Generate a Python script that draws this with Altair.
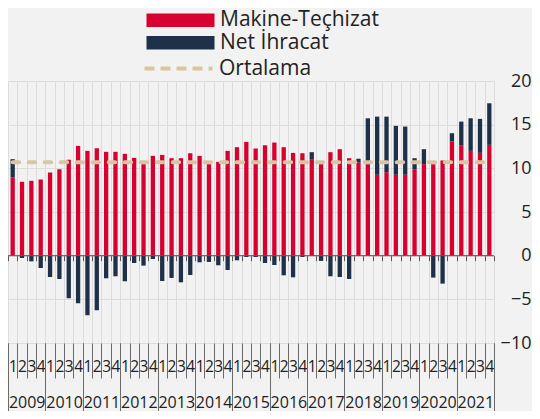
import altair as alt
import pandas as pd

# ---------------- data ----------------
YEARS = [str(y) for y in range(2009, 2022)]
QNUMS = ["1", "2", "3", "4"]

MAKINE = [8.95, 8.46, 8.57, 8.72, 9.52, 9.90, 10.97, 12.57, 12.00, 12.30,
          11.89, 11.89, 11.66, 11.20, 10.48, 11.43, 11.54, 11.16, 11.16, 11.73,
          11.43, 10.48, 10.74, 12.00, 12.42, 13.03, 12.27, 12.65, 12.95, 12.42,
          11.77, 11.73, 11.05, 10.48, 11.85, 12.19, 11.16, 10.70, 10.48, 9.26,
          9.56, 9.26, 9.26, 9.90, 10.48, 10.48, 10.90, 13.07, 12.65, 12.00,
          11.77, 12.69]
NET = [2.10, -0.27, -0.65, -1.41, -2.44, -2.67, -4.88, -5.45, -6.82, -6.25,
       -2.59, -2.36, -2.93, -0.84, -1.14, -0.38, -2.90, -2.55, -3.05, -2.21,
       -0.76, -0.72, -1.10, -1.64, -0.53, -0.15, -0.15, -0.84, -1.07, -2.25,
       -2.48, -0.15, 0.80, -0.60, -2.36, -2.44, -2.67, 0.40, 5.25, 6.66,
       6.36, 5.60, 5.52, 1.26, 1.71, -2.51, -3.20, 0.95, 2.70, 3.73,
       3.89, 4.76]
ORTALAMA = 10.7

BAR_SERIES = ["Makine-Teçhizat", "Net İhracat"]
BAR_COLORS = ["#d7002f", "#1e3148"]
AVG_SERIES = ["Ortalama"]
AVG_COLORS = ["#d8c6a2"]
Y_TICKS = [-10, -5, 0, 5, 10, 15, 20]
Y_MIN, Y_MAX = -10, 20

QUARTERS = [f"{y}-{q}" for y in YEARS for q in QNUMS]

rows = []
for i, q in enumerate(QUARTERS):
    rows.append({"q": q, "s": BAR_SERIES[0], "v": MAKINE[i], "o": 0})
    rows.append({"q": q, "s": BAR_SERIES[1], "v": NET[i], "o": 1})
bars_df = pd.DataFrame(rows)
avg_df = pd.DataFrame({"s": AVG_SERIES, "a": [QUARTERS[0]], "b": [QUARTERS[-1]], "v": [ORTALAMA]})
zero_df = pd.DataFrame({"a": [YEARS[0]], "b": [YEARS[-1]], "v": [0]})

# ---------------- style ----------------
W, H = 486, 262
FONT = "Open Sans"
TXT = "#222222"
GRID = "#dcdcdc"
TICK = "#6a6a6a"
ZERO = "#555555"
ZERO_OFFSET = -H * (0 - Y_MIN) / (Y_MAX - Y_MIN)


def band(domain):
    return alt.Scale(type="band", domain=domain, paddingInner=0, paddingOuter=0)


y_scale = alt.Scale(domain=[Y_MIN, Y_MAX], nice=False, zero=False)
y_axis = alt.Axis(orient="right", values=Y_TICKS, grid=True, gridColor=GRID,
                  domain=False, ticks=False, labelFontSize=18, labelPadding=37,
                  labelAlign="right", labelFont=FONT, labelColor=TXT, title=None)

q_axis = alt.Axis(orient="bottom", title=None, domain=False, grid=True,
                  gridColor=GRID, tickBand="extent", tickSize=35, tickColor=TICK,
                  labelExpr="datum.label ? substring(datum.label, 5) : ''",
                  labelFontSize=15.5,
                  labelFont=FONT, labelColor=TXT, labelPadding=-19,
                  labelBaseline="top", labelOverlap=False, labelAngle=0)

zero_axis = alt.Axis(orient="bottom", title=None, domain=False, grid=False,
                     labels=False, tickBand="extent", tickSize=5, tickColor=ZERO,
                     offset=ZERO_OFFSET, zindex=1)

year_axis = alt.Axis(orient="bottom", title=None, domain=False, grid=False,
                     tickBand="extent", tickSize=70, tickColor=TICK,
                     labelFontSize=16, labelFont=FONT, labelColor=TXT,
                     labelPadding=-19, labelBaseline="top", labelOverlap=False,
                     labelAngle=0)

BOX = "M-4.857,-0.96H4.857V0.96H-4.857Z"
LINE = "M-4.857,0H4.857"

bar_legend = alt.Legend(
    orient="none", legendX=162, legendY=-71.3, direction="vertical", title=None,
    labelFont=FONT, labelFontSize=21, labelColor=TXT, labelLimit=400,
    symbolType=BOX, symbolSize=196, symbolStrokeWidth=0, symbolOpacity=1,
    labelOffset=29, rowPadding=0.5, padding=0,
)
avg_legend = alt.Legend(
    orient="none", legendX=160, legendY=-23, direction="vertical", title=None,
    labelFont=FONT, labelFontSize=21, labelColor=TXT, labelLimit=400,
    symbolType=LINE, symbolSize=196, symbolStrokeWidth=4, symbolDash=[10, 6],
    symbolOpacity=1, labelOffset=30, padding=0,
)

bars = alt.Chart(bars_df).mark_bar(width=alt.RelativeBandSize(0.46)).encode(
    x=alt.X("q:N", scale=band(QUARTERS), axis=q_axis),
    y=alt.Y("v:Q", stack="zero", scale=y_scale, axis=y_axis),
    color=alt.Color("s:N", scale=alt.Scale(domain=BAR_SERIES, range=BAR_COLORS), legend=bar_legend),
    order=alt.Order("o:Q"),
)

avg = alt.Chart(avg_df).mark_rule(strokeWidth=4, strokeDash=[6.5, 9.5], strokeCap="round").encode(
    x=alt.X("a:N", scale=band(QUARTERS), axis=zero_axis),
    x2=alt.X2("b"),
    y=alt.Y("v:Q", scale=y_scale, axis=y_axis),
    color=alt.Color("s:N", scale=alt.Scale(domain=AVG_SERIES, range=AVG_COLORS), legend=avg_legend),
)

zero = alt.Chart(zero_df).mark_rule(color=ZERO, strokeWidth=1).encode(
    x=alt.X("a:N", scale=band(YEARS), bandPosition=0, axis=year_axis),
    x2=alt.X2("b", bandPosition=1),
    y=alt.Y("v:Q", scale=y_scale, axis=y_axis),
)

chart = alt.layer(bars, zero, avg).resolve_scale(x="independent", color="independent").properties(
    width=W, height=H, background="#f2f2f2",
    padding={"left": 0, "top": 73, "right": 38, "bottom": 68},
    autosize=alt.AutoSizeParams(type="none"),
).configure_view(stroke=None)

chart.save("out.html", embed_options={"renderer": "svg", "actions": False})
